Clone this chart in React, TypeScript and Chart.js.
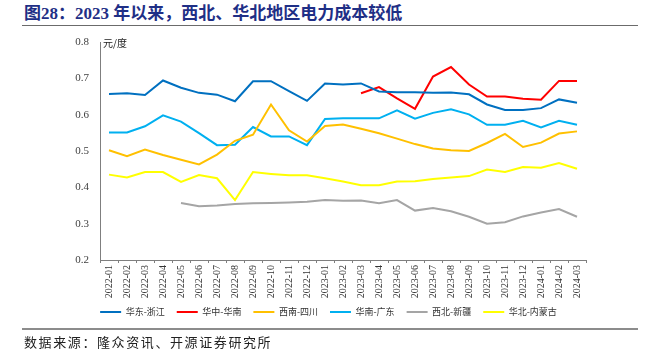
import React, { useEffect, useRef } from "react";
import { Chart, registerables } from "chart.js";

Chart.register(...registerables);

const categories = [
  "2022-01", "2022-02", "2022-03", "2022-04", "2022-05", "2022-06", "2022-07", "2022-08", "2022-09",
  "2022-10", "2022-11", "2022-12", "2023-01", "2023-02", "2023-03", "2023-04", "2023-05", "2023-06",
  "2023-07", "2023-08", "2023-09", "2023-10", "2023-11", "2023-12", "2024-01", "2024-02", "2024-03",
];

const eastZhejiang = [0.657, 0.659, 0.654, 0.694, 0.674, 0.660, 0.655, 0.637, 0.692, 0.692, 0.665, 0.638,
  0.686, 0.683, 0.686, 0.664, 0.662, 0.662, 0.660, 0.661, 0.656, 0.628, 0.613, 0.613, 0.618, 0.642, 0.633];
const centralSouth = [null, null, null, null, null, null, null, null, null, null, null, null,
  null, null, 0.659, 0.676, 0.645, 0.616, 0.705, 0.731, 0.683, 0.650, 0.650, 0.644, 0.641, 0.693, 0.693];
const swSichuan = [0.502, 0.486, 0.504, 0.489, 0.476, 0.463, 0.490, 0.528, 0.545, 0.628, 0.557, 0.526,
  0.569, 0.573, 0.561, 0.549, 0.534, 0.519, 0.507, 0.502, 0.500, 0.522, 0.547, 0.511, 0.523, 0.548, 0.554];
const southGuangdong = [0.551, 0.551, 0.568, 0.598, 0.581, 0.549, 0.516, 0.517, 0.566, 0.540, 0.540, 0.516,
  0.588, 0.590, 0.590, 0.590, 0.612, 0.589, 0.605, 0.615, 0.601, 0.572, 0.572, 0.583, 0.565, 0.583, 0.572];
const nwXinjiang = [null, null, null, null, 0.357, 0.348, 0.350, 0.354, 0.356, 0.357, 0.358, 0.360,
  0.365, 0.363, 0.364, 0.356, 0.365, 0.336, 0.343, 0.334, 0.319, 0.300, 0.304, 0.320, 0.331, 0.340, 0.319];
const northInnerMongolia = [0.435, 0.427, 0.442, 0.442, 0.415, 0.434, 0.425, 0.365, 0.442, 0.437, 0.433, 0.433,
  0.425, 0.416, 0.406, 0.406, 0.416, 0.417, 0.423, 0.427, 0.431, 0.449, 0.442, 0.456, 0.454, 0.467, 0.451];

const seriesNames = ["华东-浙江", "华中-华南", "西南-四川", "华南-广东", "西北-新疆", "华北-内蒙古"];
const seriesColors = ["#0070C0", "#FF0000", "#FFC000", "#00B0F0", "#A5A5A5", "#FFFF00"];
const seriesData = [eastZhejiang, centralSouth, swSichuan, southGuangdong, nwXinjiang, northInnerMongolia];

const yMin = 0.2;
const yMax = 0.8;
const yStep = 0.1;

const serif = '"Liberation Serif", "Times New Roman", "Noto Sans CJK SC", serif';
const cjk = '"Noto Sans CJK SC", "Liberation Serif", sans-serif';

// shifts the legend box so it sits where the reference places it
const legendShift = {
  id: "legendShift",
  afterLayout(chart: any) {
    const lg = chart.legend;
    if (!lg) return;
    const dx = 15.5;
    const dy = -5.5;
    lg.left += dx;
    lg.right += dx;
    lg.top += dy;
    lg.bottom += dy;
  },
};

export default function App() {
  const canvasRef = useRef<HTMLCanvasElement | null>(null);

  useEffect(() => {
    if (!canvasRef.current) return;
    const chart = new Chart(canvasRef.current, {
      type: "line",
      data: {
        labels: categories,
        datasets: seriesNames.map((name, i) => ({
          label: name,
          data: seriesData[i],
          borderColor: seriesColors[i],
          backgroundColor: seriesColors[i],
          borderWidth: 2,
          pointRadius: 0,
          pointHoverRadius: 0,
          tension: 0,
          spanGaps: false,
          fill: false,
        })),
      },
      plugins: [legendShift],
      options: {
        animation: false,
        responsive: false,
        maintainAspectRatio: false,
        layout: { padding: { left: 40, right: 63, top: 42, bottom: 29 } },
        plugins: {
          tooltip: { enabled: false },
          legend: {
            position: "bottom",
            labels: {
              usePointStyle: true,
              pointStyle: "line",
              pointStyleWidth: 21,
              boxHeight: 9,
              padding: 12,
              color: "#333333",
              font: { family: cjk, size: 9 },
            },
          },
        },
        scales: {
          x: {
            offset: true,
            afterFit: (scale: any) => {
              scale.height = 41;
            },
            grid: {
              display: true,
              drawOnChartArea: false,
              drawTicks: true,
              tickLength: 3,
              color: "#7F7F7F",
              offset: true,
            },
            border: { display: true, color: "#7F7F7F", width: 1 },
            ticks: {
              autoSkip: false,
              maxRotation: 90,
              minRotation: 90,
              padding: 2,
              color: "#333333",
              font: { family: serif, size: 10 },
            },
          },
          y: {
            min: yMin,
            max: yMax,
            afterFit: (scale: any) => {
              scale.width = 60;
            },
            grid: { display: false, drawTicks: false },
            border: { display: true, color: "#7F7F7F", width: 1 },
            ticks: {
              stepSize: yStep,
              padding: 11,
              color: "#404040",
              font: { family: serif, size: 11 },
              callback: (v: any) => Number(v).toFixed(1),
            },
          },
        },
      },
    });
    return () => chart.destroy();
  }, []);

  return (
    <div style={{ position: "absolute", left: 0, top: 0, width: 649, height: 361, background: "#fff", overflow: "hidden" }}>
      <div
        style={{
          position: "absolute",
          left: 24,
          top: 4,
          fontFamily: serif,
          fontWeight: "bold",
          fontSize: 17,
          lineHeight: "19px",
          color: "#1F2F86",
          whiteSpace: "nowrap",
        }}
      >
        图28：2023 年以来，西北、华北地区电力成本较低
      </div>
      <div style={{ position: "absolute", left: 22, top: 25, width: 616, height: 0, borderTop: "1.5px solid #6B6B6B" }} />
      <canvas ref={canvasRef} width={649} height={361} style={{ position: "absolute", left: 0, top: 0 }} />
      <div
        style={{
          position: "absolute",
          left: 103,
          top: 37,
          fontFamily: cjk,
          fontSize: 10,
          lineHeight: "12px",
          color: "#222",
          whiteSpace: "nowrap",
        }}
      >
        元/度
      </div>
      <div style={{ position: "absolute", left: 22, top: 328, width: 616, height: 0, borderTop: "2px solid #8C8C8C" }} />
      <div
        style={{
          position: "absolute",
          left: 24,
          top: 334,
          fontFamily: cjk,
          fontSize: 13,
          letterSpacing: 1.6,
          lineHeight: "16px",
          color: "#222",
          whiteSpace: "nowrap",
        }}
      >
        数据来源：隆众资讯、开源证券研究所
      </div>
    </div>
  );
}
